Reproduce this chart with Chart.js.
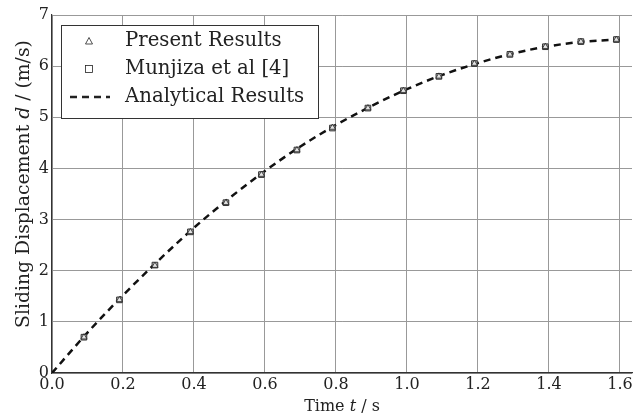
<!DOCTYPE html>
<html>
<head>
<meta charset="utf-8">
<script src="https://cdn.jsdelivr.net/npm/chart.js@4/dist/chart.umd.min.js"></script>
<style>
  html, body { margin: 0; padding: 0; background: #fff; }
  #wrap { width: 641px; height: 419px; }
</style>
</head>
<body>
<div id="wrap"><canvas id="myChart" width="641" height="419"></canvas></div>
<script>
// data
const sampleTimes = [0.09, 0.19, 0.29, 0.39, 0.49, 0.59, 0.69, 0.79, 0.89, 0.99, 1.09, 1.19, 1.29, 1.39, 1.49, 1.59];
const presentResults = [0.70, 1.43, 2.10, 2.76, 3.33, 3.88, 4.36, 4.80, 5.18, 5.52, 5.80, 6.05, 6.23, 6.38, 6.48, 6.52];
const munjizaResults = [0.70, 1.43, 2.11, 2.76, 3.33, 3.88, 4.36, 4.79, 5.18, 5.52, 5.80, 6.05, 6.23, 6.38, 6.48, 6.52];
const analyticTimes = [0.0, 0.1, 0.2, 0.3, 0.4, 0.5, 0.6, 0.7, 0.8, 0.9, 1.0, 1.1, 1.2, 1.3, 1.4, 1.5, 1.6];
const analyticValues = [0.0, 0.79, 1.52, 2.20, 2.84, 3.42, 3.95, 4.43, 4.85, 5.22, 5.55, 5.83, 6.06, 6.25, 6.39, 6.48, 6.52];
const xTicks = [0.0, 0.2, 0.4, 0.6, 0.8, 1.0, 1.2, 1.4, 1.6];
const yTicks = [0, 1, 2, 3, 4, 5, 6, 7];

const serif = "'DejaVu Serif', serif";

const toPoints = (xs, ys) => xs.map((x, i) => ({ x: x, y: ys[i] }));

// legend + axis titles drawn by hand (italic symbols inside the titles)
const extrasPlugin = {
    id: 'extras',
    afterDraw(chart) {
        const ctx = chart.ctx;
        const area = chart.chartArea;
        ctx.save();

        // x title
        ctx.fillStyle = '#222';
        ctx.textBaseline = 'alphabetic';
        const xParts = [['Time ', 'normal'], ['t', 'italic'], [' / s', 'normal']];
        drawParts(ctx, xParts, (area.left + area.right) / 2, 411, 16);

        // y title (rotated)
        ctx.save();
        ctx.translate(29, 184);
        ctx.rotate(-Math.PI / 2);
        const yParts = [['Sliding Displacement ', 'normal'], ['d', 'italic'], [' / (m/s)', 'normal']];
        drawParts(ctx, yParts, 0, 0, 18.8);
        ctx.restore();

        // legend box
        const lx = 61, ly = 25, lw = 257, lh = 93;
        ctx.fillStyle = '#fff';
        ctx.fillRect(lx, ly, lw, lh);
        ctx.strokeStyle = '#333';
        ctx.lineWidth = 1;
        ctx.strokeRect(lx + 0.5, ly + 0.5, lw, lh);

        const rows = [41, 69, 97];
        const labels = ['Present Results', 'Munjiza et al [4]', 'Analytical Results'];
        ctx.font = '19.7px ' + serif;
        ctx.fillStyle = '#222';
        ctx.textBaseline = 'middle';
        ctx.textAlign = 'left';
        labels.forEach((l, i) => ctx.fillText(l, 125, rows[i]));

        // triangle marker
        ctx.strokeStyle = '#222';
        ctx.lineWidth = 0.8;
        ctx.beginPath();
        ctx.moveTo(89, rows[0] - 3.5);
        ctx.lineTo(92.5, rows[0] + 3);
        ctx.lineTo(85.5, rows[0] + 3);
        ctx.closePath();
        ctx.stroke();
        // square marker
        ctx.strokeRect(85.5, rows[1] - 3.5, 7, 7);
        // dashed line
        ctx.lineWidth = 2.5;
        ctx.setLineDash([7, 5]);
        ctx.beginPath();
        ctx.moveTo(70, rows[2]);
        ctx.lineTo(110, rows[2]);
        ctx.stroke();
        ctx.setLineDash([]);
        ctx.restore();
    }
};

function drawParts(ctx, parts, cx, y, size) {
    let total = 0;
    parts.forEach(p => {
        ctx.font = p[1] + ' ' + size + 'px ' + serif;
        total += ctx.measureText(p[0]).width;
    });
    let x = cx - total / 2;
    ctx.textAlign = 'left';
    parts.forEach(p => {
        ctx.font = p[1] + ' ' + size + 'px ' + serif;
        ctx.fillText(p[0], x, y);
        x += ctx.measureText(p[0]).width;
    });
}

const ctx = document.getElementById('myChart').getContext('2d');
const chart = new Chart(ctx, {
    type: 'scatter',
    data: {
        datasets: [
            {
                label: 'Analytical Results',
                type: 'line',
                data: toPoints(analyticTimes, analyticValues),
                borderColor: '#111',
                borderWidth: 2.5,
                borderDash: [7, 5],
                pointRadius: 0,
                fill: false,
                cubicInterpolationMode: 'monotone',
                order: 3
            },
            {
                label: 'Munjiza et al [4]',
                data: toPoints(sampleTimes, munjizaResults),
                pointStyle: 'rect',
                pointRadius: 4,
                backgroundColor: '#bbb',
                borderColor: '#333',
                borderWidth: 1,
                order: 2
            },
            {
                label: 'Present Results',
                data: toPoints(sampleTimes, presentResults),
                pointStyle: 'triangle',
                pointRadius: 3.5,
                backgroundColor: 'rgba(255,255,255,0.6)',
                borderColor: '#222',
                borderWidth: 0.8,
                order: 1
            }
        ]
    },
    options: {
        responsive: false,
        animation: false,
        layout: { padding: { top: 15, right: 9, left: 0, bottom: 0 } },
        scales: {
            x: {
                type: 'linear',
                min: 0,
                max: 1.634,
                afterBuildTicks: axis => { axis.ticks = xTicks.map(v => ({ value: v })); },
                afterFit: axis => { axis.height = 46; },
                grid: { color: '#999', lineWidth: 1, drawTicks: false },
                border: { color: '#333', width: 1.2 },
                ticks: {
                    padding: 2,
                    color: '#222',
                    font: { family: serif, size: 16 },
                    callback: v => v.toFixed(1)
                }
            },
            y: {
                min: 0,
                max: 7,
                afterBuildTicks: axis => { axis.ticks = yTicks.map(v => ({ value: v })); },
                afterFit: axis => { axis.width = 52; },
                grid: { color: '#999', lineWidth: 1, drawTicks: false },
                border: { color: '#333', width: 1.2 },
                ticks: {
                    padding: 3,
                    color: '#222',
                    font: { family: serif, size: 16 }
                }
            }
        },
        plugins: {
            legend: { display: false },
            tooltip: { enabled: false }
        }
    },
    plugins: [extrasPlugin]
});
</script>
</body>
</html>
